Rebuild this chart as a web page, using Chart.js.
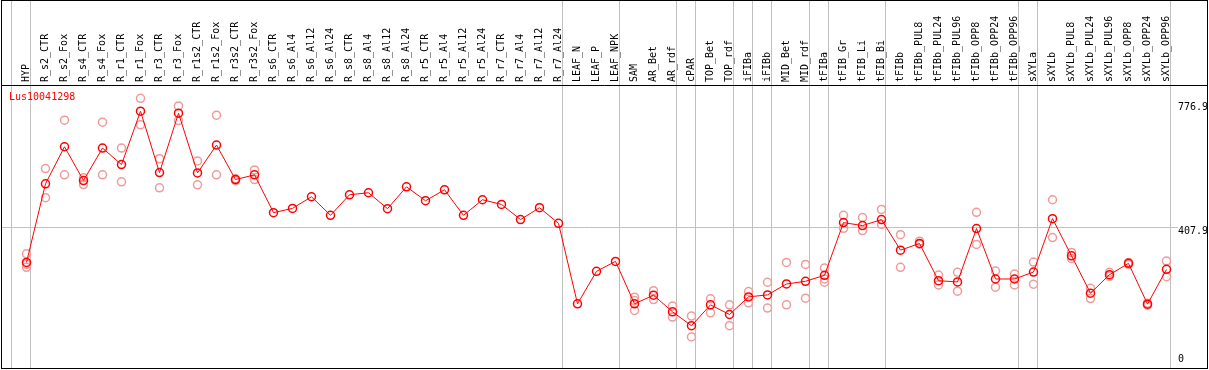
<!DOCTYPE html>
<html>
<head>
<meta charset="utf-8">
<script src="https://cdn.jsdelivr.net/npm/chart.js@4.4.1/dist/chart.umd.min.js"></script>
<style>
  body { margin: 0; background: #fff; }
</style>
</head>
<body>
<canvas id="exprChart" width="1209" height="370"></canvas>
<script>
const tissues = [
  'HYP', 'R_s2_CTR', 'R_s2_Fox', 'R_s4_CTR', 'R_s4_Fox', 'R_r1_CTR', 'R_r1_Fox', 'R_r3_CTR', 'R_r3_Fox',
  'R_r1s2_CTR', 'R_r1s2_Fox', 'R_r3s2_CTR', 'R_r3s2_Fox',
  'R_s6_CTR', 'R_s6_Al4', 'R_s6_Al12', 'R_s6_Al24', 'R_s8_CTR', 'R_s8_Al4', 'R_s8_Al12', 'R_s8_Al24',
  'R_r5_CTR', 'R_r5_Al4', 'R_r5_Al12', 'R_r5_Al24', 'R_r7_CTR', 'R_r7_Al4', 'R_r7_Al12', 'R_r7_Al24',
  'LEAF_N', 'LEAF_P', 'LEAF_NPK', 'SAM', 'AR_Bet', 'AR_rdf', 'cPAR', 'TOP_Bet', 'TOP_rdf',
  'iFIBa', 'iFIBb', 'MID_Bet', 'MID_rdf', 'tFIBa', 'tFIB_Gr', 'tFIB_Li', 'tFIB_Bi', 'tFIBb',
  'tFIBb_PUL8', 'tFIBb_PUL24', 'tFIBb_PUL96', 'tFIBb_OPP8', 'tFIBb_OPP24', 'tFIBb_OPP96',
  'sXYLa', 'sXYLb', 'sXYLb_PUL8', 'sXYLb_PUL24', 'sXYLb_PUL96', 'sXYLb_OPP8', 'sXYLb_OPP24', 'sXYLb_OPP96'
];

// mean expression per tissue
const meanExpr = [
  303.8, 537.6, 647.9, 547.3, 644.1, 594.7, 753.6, 571.0, 747.6, 570.1,
  653.0, 550.3, 564.2, 451.8, 464.5, 499.1, 443.8, 505.0, 511.0, 463.6,
  528.7, 487.3, 519.8, 443.8, 490.2, 476.3, 431.1, 466.6, 420.1, 180.5,
  277.2, 306.8, 180.5, 206.2, 156.8, 115.4, 177.5, 148.8, 201.2, 207.1,
  239.6, 247.6, 265.4, 422.2, 413.3, 431.1, 340.2, 360.1, 249.4, 245.6,
  404.4, 254.4, 254.4, 275.1, 434.0, 323.4, 212.1, 267.2, 300.9, 179.6,
  283.1
];

// replicates
const rep1 = [
  329.3, 582.8, 726.9, 555.3, 721.0, 644.1, 792.0, 612.4, 769.2, 605.6,
  741.7, 552.4, 579.0, null, null, null, null, null, null, null,
  null, null, null, null, null, null, null, null, null, null,
  null, null, 200.3, 219.8, 173.7, 144.1, 195.3, 177.5, 216.9, 244.7,
  303.8, 297.9, 287.0, 443.8, 437.0, 461.5, 386.1, 366.9, 266.3, 274.3,
  452.7, 278.1, 269.2, 304.7, 490.2, 333.4, 226.9, 274.3, 303.8, 182.5,
  307.7
];
const rep2 = [
  289.0, 496.2, 564.2, 535.5, 564.2, 543.5, 713.0, 525.7, 725.7, 534.6,
  564.2, 547.3, 550.3, null, null, null, null, null, null, null,
  null, null, null, null, null, null, null, null, null, null,
  null, null, 160.7, 193.2, 141.1, 82.0, 153.8, 115.4, 183.4, 167.8,
  177.5, 197.3, 244.7, 405.3, 398.5, 417.2, 289.0, 358.0, 236.7, 218.0,
  357.1, 229.9, 236.7, 238.8, 377.8, 315.7, 196.2, 262.4, 297.9, 176.6,
  261.2
];
const rep3 = [
  298.0, null, null, null, null, null, null, null, null, null,
  null, null, null, null, null, null, null, null, null, null,
  null, null, null, null, null, null, null, null, null, null,
  null, null, 190.2, null, null, null, null, null, null, null,
  null, null, 254.4, null, null, null, null, null, null, null,
  null, null, null, null, null, null, null, null, null, null,
  null
];

const yTicks = [0, 407.9, 776.9];
const yMax = 831.6;
// last tissue of each group (separator drawn just right of it)
const groupEnds = [-1, 0, 28, 31, 34, 35, 37, 38, 39, 41, 42, 45, 52, 53, 60];
const geneId = 'Lus10041298';

const monoFont = '10px "DejaVu Sans Mono", "Liberation Mono", monospace';

const framePlugin = {
  id: 'frame',
  beforeDatasetsDraw(chart) {
    const { ctx, scales: { x, y } } = chart;
    ctx.save();
    ctx.strokeStyle = '#c0c0c0';
    ctx.lineWidth = 1;
    groupEnds.forEach(i => {
      const px = Math.round(x.getPixelForValue(i) + 3.5) + 0.5;
      ctx.beginPath();
      ctx.moveTo(px, 0);
      ctx.lineTo(px, 368);
      ctx.stroke();
    });
    const gy = Math.round(y.getPixelForValue(yTicks[1])) + 0.5;
    ctx.beginPath();
    ctx.moveTo(1, gy);
    ctx.lineTo(1178, gy);
    ctx.stroke();
    ctx.restore();
  },
  afterDraw(chart) {
    const { ctx, scales: { y } } = chart;
    ctx.save();
    ctx.strokeStyle = '#000';
    ctx.lineWidth = 1;
    ctx.strokeRect(1.5, 0.5, 1206, 368);
    ctx.beginPath();
    ctx.moveTo(1, 85.5);
    ctx.lineTo(1208, 85.5);
    ctx.stroke();

    ctx.font = monoFont;
    ctx.fillStyle = '#000';
    ctx.textAlign = 'left';
    yTicks.forEach(v => {
      const py = y.getPixelForValue(v);
      ctx.textBaseline = v === 0 ? 'bottom' : 'top';
      ctx.fillText(String(v), 1178, v === 0 ? py : py - 1);
    });

    ctx.fillStyle = '#ff0000';
    ctx.textBaseline = 'top';
    ctx.fillText(geneId, 9, 92);
    ctx.restore();
  }
};

const repStyle = {
  showLine: false,
  pointRadius: 4,
  pointBorderWidth: 1.5,
  pointBorderColor: '#f09a9a',
  pointBackgroundColor: 'rgba(0,0,0,0)',
  clip: false
};

const ctx = document.getElementById('exprChart').getContext('2d');
const exprChart = new Chart(ctx, {
  type: 'line',
  data: {
    labels: tissues,
    datasets: [
      {
        label: 'mean',
        data: meanExpr,
        borderColor: '#ff0000',
        borderWidth: 1,
        pointRadius: 4,
        pointBorderWidth: 1.5,
        pointBorderColor: '#ff0000',
        pointBackgroundColor: 'rgba(0,0,0,0)',
        tension: 0,
        clip: false,
        order: 0
      },
      { label: 'rep1', data: rep1, ...repStyle, order: 1 },
      { label: 'rep2', data: rep2, ...repStyle, order: 2 },
      { label: 'rep3', data: rep3, ...repStyle, order: 3 }
    ]
  },
  options: {
    responsive: false,
    animation: false,
    events: [],
    layout: {
      padding: { left: 26.5, right: 42.5, top: 0, bottom: 4 }
    },
    plugins: {
      legend: { display: false },
      tooltip: { enabled: false }
    },
    scales: {
      x: {
        position: 'top',
        grid: { display: false, drawTicks: false },
        border: { display: false },
        afterFit: scale => { scale.height = 85; },
        ticks: {
          autoSkip: false,
          minRotation: 90,
          maxRotation: 90,
          padding: 3,
          labelOffset: 12,
          color: '#000',
          font: { family: '"DejaVu Sans Mono", "Liberation Mono", monospace', size: 10 }
        }
      },
      y: {
        display: false,
        min: 0,
        max: yMax
      }
    }
  },
  plugins: [framePlugin]
});
</script>
</body>
</html>
